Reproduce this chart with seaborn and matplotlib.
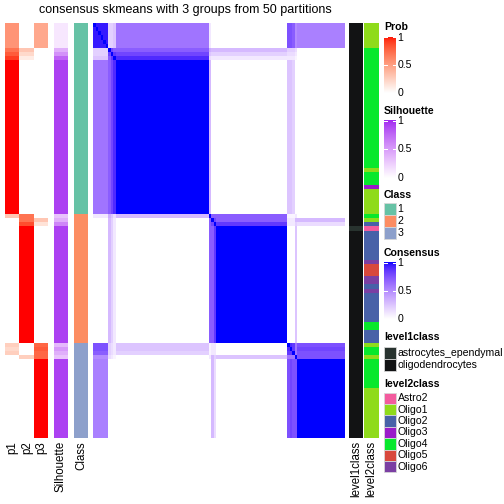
import numpy as np
import matplotlib
matplotlib.use("Agg")
import matplotlib.pyplot as plt
import seaborn as sns
from matplotlib.colors import ListedColormap
from matplotlib.patches import Rectangle

plt.rcParams['font.family'] = ['Liberation Sans', 'DejaVu Sans']

# ---- data --------------------------------------------------------------
# samples are grouped into segments (core blocks + single transition rows)
seg_names = ['A', 't6', 't7', 't8', 'C1', 't46', 't47', 't48', 'C2',
             't77', 't78', 't79', 't80', 'C3']
seg_sizes = [6, 1, 1, 1, 37, 1, 1, 1, 28, 1, 1, 1, 1, 19]
seg_class = [1, 1, 1, 1, 1, 2, 2, 2, 2, 3, 3, 3, 3, 3]
seg_p1 = [0.55, 0.7, 0.8, 0.9, 1.0, 0.3, 0.0, 0.0, 0.0, 0.25, 0.2, 0.25, 0.0, 0.0]
seg_p2 = [0.0, 0.3, 0.2, 0.1, 0.0, 0.7, 0.7, 0.85, 1.0, 0.0, 0.0, 0.0, 0.25, 0.0]
seg_p3 = [0.45, 0.0, 0.0, 0.0, 0.0, 0.0, 0.3, 0.15, 0.0, 0.75, 0.8, 0.75, 0.75, 1.0]
seg_silhouette = [0.12, 0.4, 0.55, 0.75, 0.9, 0.3, 0.4, 0.6, 0.9, 0.35, 0.5, 0.4, 0.3, 0.9]

# consensus between segments
seg_consensus = [
    [0.95, 0.2, 0.2, 0.25, 0.6, 0.1, 0.0, 0.0, 0.0, 0.75, 0.75, 0.7, 0.5, 0.55],
    [0.2, 1.0, 0.8, 0.7, 0.7, 0.35, 0.3, 0.3, 0.3, 0.2, 0.2, 0.2, 0.15, 0.0],
    [0.2, 0.8, 1.0, 0.85, 0.8, 0.25, 0.2, 0.2, 0.2, 0.15, 0.15, 0.15, 0.1, 0.0],
    [0.25, 0.7, 0.85, 1.0, 0.9, 0.15, 0.1, 0.1, 0.1, 0.1, 0.1, 0.1, 0.05, 0.0],
    [0.6, 0.7, 0.8, 0.9, 1.0, 0.3, 0.0, 0.0, 0.0, 0.25, 0.25, 0.2, 0.0, 0.0],
    [0.1, 0.35, 0.25, 0.15, 0.3, 1.0, 0.7, 0.7, 0.7, 0.05, 0.05, 0.05, 0.1, 0.0],
    [0.0, 0.3, 0.2, 0.1, 0.0, 0.7, 1.0, 0.8, 0.7, 0.1, 0.1, 0.1, 0.3, 0.3],
    [0.0, 0.3, 0.2, 0.1, 0.0, 0.7, 0.8, 1.0, 0.85, 0.1, 0.1, 0.1, 0.2, 0.15],
    [0.0, 0.3, 0.2, 0.1, 0.0, 0.7, 0.7, 0.85, 1.0, 0.0, 0.0, 0.0, 0.25, 0.0],
    [0.75, 0.2, 0.15, 0.1, 0.25, 0.05, 0.1, 0.1, 0.0, 1.0, 0.9, 0.85, 0.6, 0.75],
    [0.75, 0.2, 0.15, 0.1, 0.25, 0.05, 0.1, 0.1, 0.0, 0.9, 1.0, 0.85, 0.6, 0.8],
    [0.7, 0.2, 0.15, 0.1, 0.2, 0.05, 0.1, 0.1, 0.0, 0.85, 0.85, 1.0, 0.6, 0.75],
    [0.5, 0.15, 0.1, 0.05, 0.0, 0.1, 0.3, 0.2, 0.25, 0.6, 0.6, 0.6, 1.0, 0.75],
    [0.55, 0.0, 0.0, 0.0, 0.0, 0.0, 0.3, 0.15, 0.0, 0.75, 0.8, 0.75, 0.75, 1.0],
]

level1_runs = ['oligodendrocytes', 'astrocytes_ependymal', 'oligodendrocytes']
level1_sizes = [49, 1, 50]

level2_runs = ['Oligo1', 'Oligo4', 'Oligo1', 'Oligo4', 'Oligo3', 'Oligo1',
               'Oligo4', 'Oligo1', 'Oligo2', 'Astro2', 'Oligo2', 'Oligo6',
               'Oligo5', 'Oligo6', 'Oligo2', 'Oligo6', 'Oligo2', 'Oligo4',
               'Oligo2', 'Oligo1', 'Oligo4', 'Oligo1', 'Oligo4', 'Oligo1']
level2_sizes = [6, 29, 1, 3, 1, 6, 1, 1, 1, 1, 7, 1, 3, 2, 1, 1, 7, 2, 3,
                1, 2, 1, 7, 12]

class_levels = [1, 2, 3]
class_colors = ['#66C2A5', '#FC8D62', '#8DA0CB']
level1_levels = ['astrocytes_ependymal', 'oligodendrocytes']
level1_colors = ['#28332F', '#121314']
level2_levels = ['Astro2', 'Oligo1', 'Oligo2', 'Oligo3', 'Oligo4', 'Oligo5', 'Oligo6']
level2_colors = ['#F35B9E', '#8FDB1B', '#4861A8', '#9A1BC9', '#08E82C', '#D8483C', '#7B3FA3']

title = 'consensus skmeans with 3 groups from 50 partitions'


# ---- colour ramps interpolated in LAB (like colorRamp2) ------------------
M = np.array([[0.4124, 0.3576, 0.1805],
              [0.2126, 0.7152, 0.0722],
              [0.0193, 0.1192, 0.9505]])
WHITE = np.array([0.95047, 1.0, 1.08883])


def to_lab(hexcol):
    rgb = np.array(matplotlib.colors.to_rgb(hexcol))
    lin = np.where(rgb <= 0.04045, rgb / 12.92, ((rgb + 0.055) / 1.055) ** 2.4)
    t = (M @ lin) / WHITE
    f = np.where(t > (6 / 29) ** 3, np.cbrt(t), t / (3 * (6 / 29) ** 2) + 4 / 29)
    return np.array([116 * f[1] - 16, 500 * (f[0] - f[1]), 200 * (f[1] - f[2])])


def from_lab(lab):
    fy = (lab[0] + 16) / 116
    f = np.array([fy + lab[1] / 500, fy, fy - lab[2] / 200])
    t = np.where(f > 6 / 29, f ** 3, 3 * (6 / 29) ** 2 * (f - 4 / 29))
    lin = np.clip(np.linalg.inv(M) @ (t * WHITE), 0, 1)
    rgb = np.where(lin <= 0.0031308, 12.92 * lin, 1.055 * lin ** (1 / 2.4) - 0.055)
    return np.clip(rgb, 0, 1)


def lab_ramp(c0, c1, n=256):
    a, b = to_lab(c0), to_lab(c1)
    return ListedColormap([from_lab(a + (b - a) * s) for s in np.linspace(0, 1, n)])


prob_cmap = lab_ramp('white', '#FF0000')
sil_cmap = lab_ramp('white', '#A020F0')
cons_cmap = lab_ramp('white', '#0000FF')

# ---- expand segments to samples -----------------------------------------
sizes = np.array(seg_sizes)
prob = np.column_stack([np.repeat(seg_p1, sizes), np.repeat(seg_p2, sizes),
                        np.repeat(seg_p3, sizes)])
sil = np.repeat(seg_silhouette, sizes)[:, None]
cls = np.repeat([class_levels.index(c) for c in seg_class], sizes)[:, None]
seg_idx = np.repeat(np.arange(len(seg_sizes)), sizes)
cons = np.array(seg_consensus)[np.ix_(seg_idx, seg_idx)]
np.fill_diagonal(cons, 1.0)
lv1 = np.repeat([level1_levels.index(v) for v in level1_runs], level1_sizes)[:, None]
lv2 = np.repeat([level2_levels.index(v) for v in level2_runs], level2_sizes)[:, None]

# ---- figure --------------------------------------------------------------
W = H = 504
fig = plt.figure(figsize=(W / 72, H / 72), dpi=72)


def add_ax(x0, y0, x1, y1):
    return fig.add_axes([x0 / W, 1 - y1 / H, (x1 - x0) / W, (y1 - y0) / H])


def ftext(x, y, s, **kw):
    fig.text(x / W, 1 - y / H, s, **kw)


TOP, BOT = 23, 438
hm = dict(cbar=False, xticklabels=False, yticklabels=False)

sns.heatmap(prob, ax=add_ax(5, TOP, 48, BOT), cmap=prob_cmap, vmin=0, vmax=1, **hm)
sns.heatmap(sil, ax=add_ax(54, TOP, 68, BOT), cmap=sil_cmap, vmin=0, vmax=1, **hm)
sns.heatmap(cls, ax=add_ax(74, TOP, 88, BOT), cmap=ListedColormap(class_colors),
            vmin=-0.5, vmax=2.5, **hm)
sns.heatmap(cons, ax=add_ax(93, TOP, 345, BOT), cmap=cons_cmap, vmin=0, vmax=1, **hm)
sns.heatmap(lv1, ax=add_ax(349, TOP, 363, BOT), cmap=ListedColormap(level1_colors),
            vmin=-0.5, vmax=1.5, **hm)
sns.heatmap(lv2, ax=add_ax(364, TOP, 379, BOT), cmap=ListedColormap(level2_colors),
            vmin=-0.5, vmax=6.5, **hm)

ftext(185, 10, title, ha='center', va='center', fontsize=12.5)

for x, lab in [(12.5, 'p1'), (27, 'p2'), (41, 'p3'), (61, 'Silhouette'),
               (81, 'Class'), (356, 'level1class'), (371.5, 'level2class')]:
    ftext(x, 441, lab, rotation=90, ha='center', va='top', fontsize=11.5)

# ---- legends -------------------------------------------------------------
LX = 384
FS = 10.5


def grad_legend(name, cmap, ty, top, bot):
    ftext(LX, ty, name, fontweight='bold', va='center', fontsize=FS)
    ax = add_ax(LX, top, LX + 12, bot)
    ax.imshow(np.linspace(1, 0, 200)[:, None], aspect='auto', cmap=cmap,
              vmin=0, vmax=1, extent=[0, 1, 0, 1])
    for v in (0.5, 1.0):
        yv = v - 0.015 if v == 1.0 else v
        ax.plot([0, 0.22], [yv, yv], color='white', lw=1)
        ax.plot([0.78, 1], [yv, yv], color='white', lw=1)
    ax.set_xlim(0, 1)
    ax.set_ylim(0, 1)
    ax.axis('off')
    for v, s in [(1, '1'), (0.5, '0.5'), (0, '0')]:
        ftext(LX + 13.5, bot - v * (bot - top) + (1.5 if v == 1 else 0), s,
              va='center', fontsize=FS)


def cat_legend(name, levels, colors, ty, y0, step):
    ftext(LX, ty, name, fontweight='bold', va='center', fontsize=FS)
    lax = fig.add_axes([0, 0, 1, 1], facecolor='none')
    lax.set_xlim(0, W)
    lax.set_ylim(H, 0)
    lax.axis('off')
    for i, (lev, col) in enumerate(zip(levels, colors)):
        y = y0 + i * step
        lax.add_patch(Rectangle((LX, y), 11.5, step, facecolor=col,
                                edgecolor='#d8d8d8', lw=0.8))
        ftext(LX + 13.5, y + step / 2, str(lev), va='center', fontsize=FS)


grad_legend('Prob', prob_cmap, 27, 36.5, 93.5)
grad_legend('Silhouette', sil_cmap, 111, 120, 178)
cat_legend('Class', class_levels, class_colors, 195, 203, 12)
grad_legend('Consensus', cons_cmap, 253, 262, 319)
cat_legend('level1class', level1_levels, level1_colors, 337, 346.5, 12)
cat_legend('level2class', level2_levels, level2_colors, 384, 392.5, 11.4)

fig.savefig('out.png', dpi=72)
